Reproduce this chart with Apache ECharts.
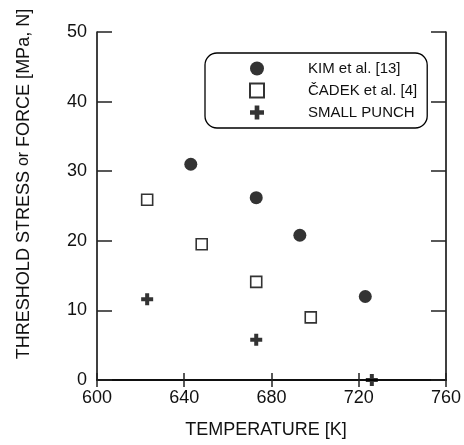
<!DOCTYPE html>
<html>
<head>
<meta charset="utf-8">
<script src="https://cdn.jsdelivr.net/npm/echarts@6/dist/echarts.min.js"></script>
<style>
  html, body { margin: 0; padding: 0; background: #fff; }
  #chart { width: 464px; height: 445px; }
</style>
</head>
<body>
<div id="chart"></div>
<script>
// temperature [K] and threshold stress / force values
const kimTemp = [643, 673, 693, 723];
const kimStress = [31, 26.2, 20.8, 12];
const cadekTemp = [623, 648, 673, 698];
const cadekStress = [25.9, 19.5, 14.1, 9];
const punchTemp = [623, 673, 726];
const punchForce = [11.6, 5.8, 0];

const xTicks = [600, 640, 680, 720, 760];
const yTicks = [0, 10, 20, 30, 40, 50];

const FONT = "'Liberation Sans', Arial, Helvetica, sans-serif";
const plus = "path://M4,0H8V4H12V8H8V12H4V8H0V4H4Z";

const zip = (xs, ys) => xs.map((x, i) => [x, ys[i]]);

const chart = echarts.init(document.getElementById("chart"));

const baseX = {
  type: "value",
  min: xTicks[0],
  max: xTicks[xTicks.length - 1],
  interval: 40,
  splitLine: { show: false },
  axisLine: { lineStyle: { color: "#000", width: 1.5 } },
  axisTick: { inside: true, length: 7, lineStyle: { color: "#222", width: 1.5 } },
};
const baseY = {
  type: "value",
  min: yTicks[0],
  max: yTicks[yTicks.length - 1],
  interval: 10,
  splitLine: { show: false },
  axisLine: { show: true, lineStyle: { color: "#000", width: 1.5 } },
  axisTick: { inside: true, length: 15, lineStyle: { color: "#222", width: 1.5 } },
};

chart.setOption({
  animation: false,
  textStyle: { fontFamily: FONT },
  grid: { left: 97, top: 32, width: 349, height: 348 },
  xAxis: [
    {
      ...baseX,
      position: "bottom",
      name: "TEMPERATURE [K]",
      nameLocation: "middle",
      nameGap: 41,
      nameTextStyle: { fontSize: 18, color: "#111", fontFamily: FONT, padding: [0, 11, 0, 0] },
      axisLabel: { fontSize: 18, color: "#111", margin: 9, fontFamily: FONT },
    },
    { ...baseX, position: "top", axisLabel: { show: false } },
  ],
  yAxis: [
    {
      ...baseY,
      position: "left",
      axisLabel: { fontSize: 18, color: "#111", margin: 10, fontFamily: FONT },
    },
    { ...baseY, position: "right", axisLabel: { show: false } },
  ],
  graphic: [
    {
      type: "text",
      x: 24,
      y: 184,
      rotation: Math.PI / 2,
      style: {
        text: "{a|THRESHOLD STRESS }{b|or}{a| FORCE [MPa, N]}",
        align: "center",
        verticalAlign: "middle",
        fill: "#111",
        rich: {
          a: { fontSize: 18, fontFamily: FONT, fill: "#111" },
          b: { fontSize: 16, fontFamily: FONT, fill: "#111" },
        },
      },
    },
  ],
  legend: {
    orient: "vertical",
    left: 205,
    top: 53,
    padding: [7, 10, 7, 44],
    itemGap: 5,
    itemWidth: 14,
    itemHeight: 14,
    borderColor: "#000",
    borderWidth: 1.3,
    borderRadius: 12,
    backgroundColor: "#fff",
    textStyle: { fontSize: 15, color: "#111", fontFamily: FONT, padding: [0, 0, 0, 39], lineHeight: 17 },
    data: ["KIM et al. [13]", "ČADEK et al. [4]", "SMALL PUNCH"],
  },
  series: [
    {
      name: "KIM et al. [13]",
      type: "scatter",
      symbol: "circle",
      symbolSize: 13,
      itemStyle: { color: "#000" },
      data: zip(kimTemp, kimStress),
    },
    {
      name: "ČADEK et al. [4]",
      type: "scatter",
      symbol: "rect",
      symbolSize: 11,
      itemStyle: { color: "#fff", borderColor: "#000", borderWidth: 1.6 },
      data: zip(cadekTemp, cadekStress),
    },
    {
      name: "SMALL PUNCH",
      type: "scatter",
      symbol: plus,
      symbolSize: 12,
      itemStyle: { color: "#000" },
      data: zip(punchTemp, punchForce),
    },
  ],
});
</script>
</body>
</html>
